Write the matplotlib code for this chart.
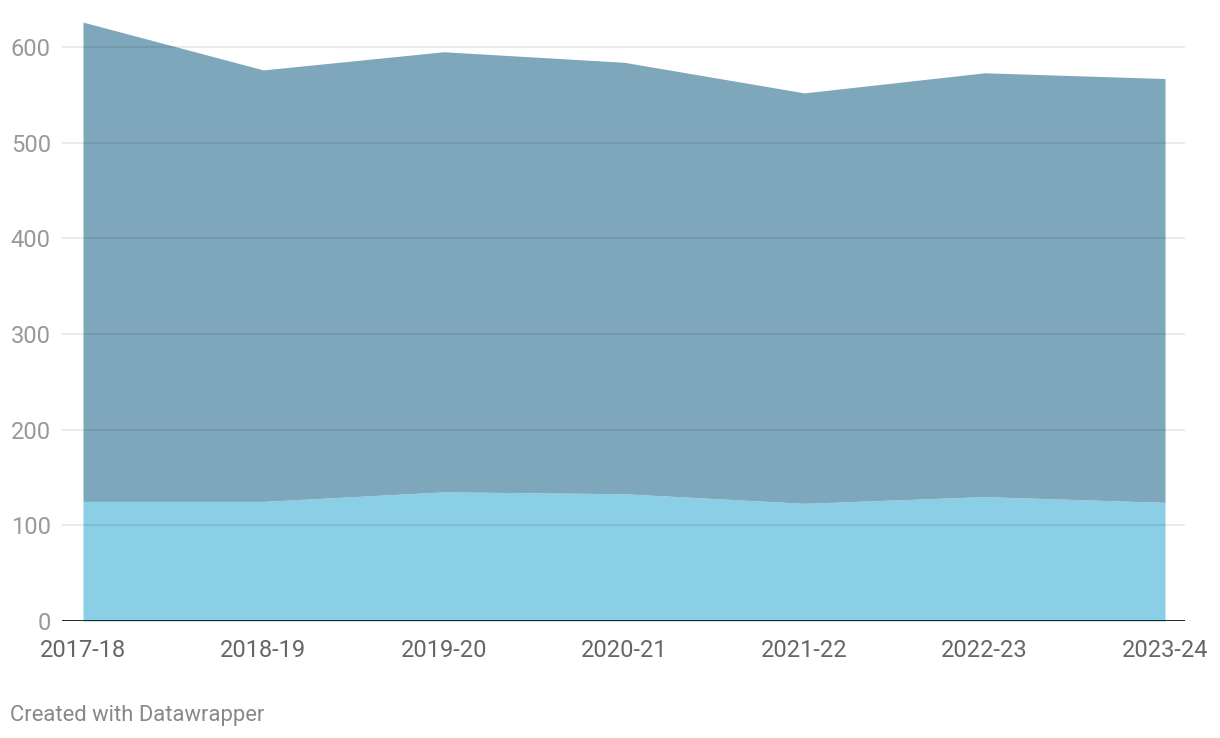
import matplotlib.pyplot as plt

years = ['2017-18', '2018-19', '2019-20', '2020-21', '2021-22', '2022-23', '2023-24']
lower = [125, 125, 135, 133, 123, 130, 124]
total = [626, 576, 595, 584, 552, 573, 567]
yticks = [0, 100, 200, 300, 400, 500, 600]

plt.rcParams['font.family'] = ['Roboto', 'DejaVu Sans']

fig = plt.figure(figsize=(12.2, 7.38), dpi=100)
ax = fig.add_axes([62 / 1220, 1 - 621 / 738, (1185 - 62) / 1220, 612.3 / 738])

x = list(range(len(years)))
ax.fill_between(x, 0, lower, color='#8acfe6', linewidth=0, zorder=1)
ax.fill_between(x, lower, total, color='#7fa7bb', linewidth=0, zorder=1)

for t in yticks[1:]:
    ax.axhline(t, color='black', alpha=0.09, linewidth=1.3, zorder=2)
ax.axhline(0, color='#111111', linewidth=2, zorder=3)

ax.set_xlim(-21 / 180.33, 6 + 20 / 180.33)
ax.set_ylim(0, 640)
ax.set_xticks(x)
ax.set_xticklabels(years, fontsize=17, color='#666666')
ax.set_yticks(yticks)
ax.set_yticklabels([str(t) for t in yticks], fontsize=17, color='#999999')
ax.tick_params(axis='both', length=0)
ax.tick_params(axis='x', pad=13)
ax.tick_params(axis='y', pad=8)
for s in ax.spines.values():
    s.set_visible(False)

fig.text(10 / 1220, 1 - 715 / 738, 'Created with Datawrapper', fontsize=15.8,
         color='#888888', va='center', ha='left')

fig.savefig('out.png', dpi=100)
